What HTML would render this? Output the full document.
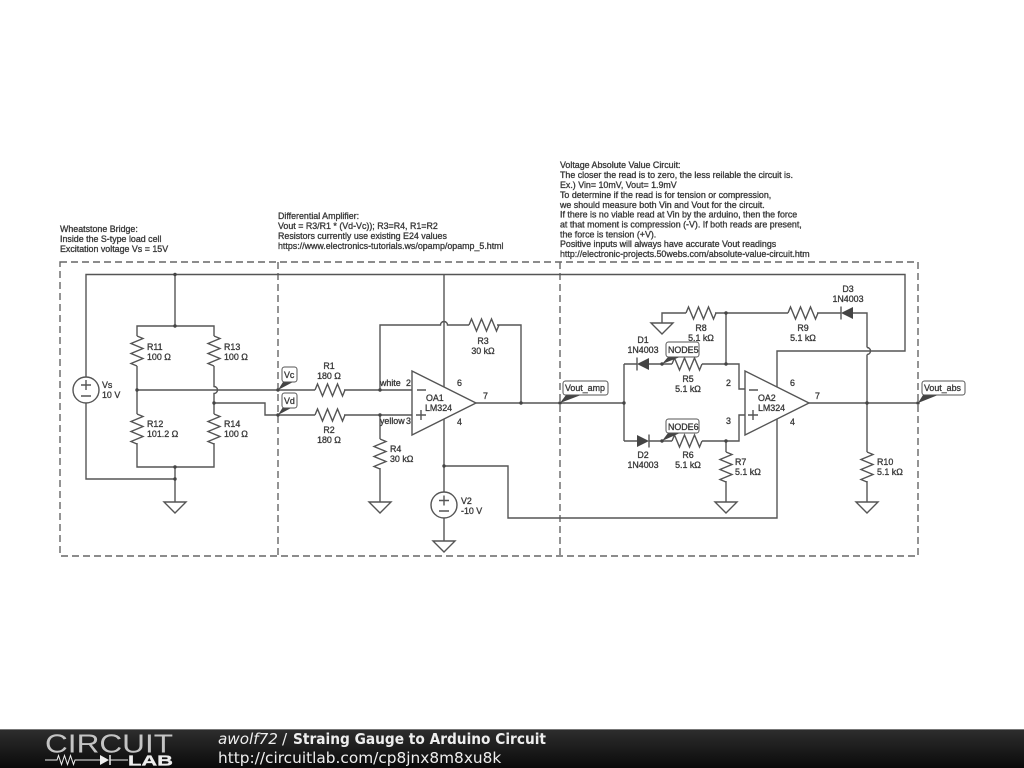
<!DOCTYPE html>
<html><head><meta charset="utf-8"><style>
html,body{margin:0;padding:0;background:#fff;width:1024px;height:768px;overflow:hidden}
svg{display:block;position:absolute;left:0;top:0;filter:blur(.35px)}
.w{fill:none;stroke:#555;stroke-width:1.4}
.d{fill:none;stroke:#666;stroke-width:1.4;stroke-dasharray:7 4}
.t text{font-family:"Liberation Sans",sans-serif;font-size:8.87px;fill:#3a3a3a;stroke:#3a3a3a;stroke-width:.32}
.c text{text-anchor:middle}
.box{fill:#fff;stroke:#555;stroke-width:1}
.wedge{fill:#444;stroke:none}
.dot{fill:#444}
</style></head><body>
<svg width="1024" height="768" viewBox="0 0 1024 768" xmlns="http://www.w3.org/2000/svg">
<defs>
<path id="rh" class="w" d="M0 0l2.500-6 5 12 5-12 5 12 5-12 5 12 2.500-6"/>
<path id="rv" class="w" d="M0 0l6 2.500-12 5 12 5-12 5 12 5-12 5 6 2.500"/>
<path id="gnd" class="w" d="M0 0h-11l11 11 11-11z"/>
</defs>
<!-- frames -->
<path class="d" d="M60 262H918V556H60Z"/>
<path class="d" d="M278 262V556M560 262V556"/>
<!-- bridge wiring -->
<path class="w" d="M86 377V274.500H905V351H777V387"/>
<path class="w" d="M175 274.500V326M137 336V326H214V336M137 366V414M214 366V386.500a3.500 3.500 0 0 1 0 7V414M137 443V467H214V443M175 467V502M86 403V479H175"/>
<path class="w" d="M137 390H315M214 403H265V415H315M344 390H412M344 415H412"/>
<use href="#rv" x="137" y="336"/><use href="#rv" x="214" y="336"/><use href="#rv" x="137" y="414"/><use href="#rv" x="214" y="414"/>
<use href="#gnd" x="175" y="502"/>
<circle class="w" cx="86" cy="390" r="13"/>
<path class="w" d="M81 385h10M86 380v10M81 396h10"/>
<!-- opamp 1 -->
<use href="#rh" x="315" y="390"/><use href="#rh" x="315" y="415"/>
<path class="w" d="M380 390V325H440.500a3.500 3.500 0 0 1 7 0H469M497 325H521V403M476 403H624M624 364V441"/>
<use href="#rh" x="469" y="325"/>
<path class="w" d="M380 415V439M380 468V502"/><use href="#rv" x="380" y="439"/><use href="#gnd" x="380" y="502"/>
<path class="w" d="M444 274.500V387M444 419V492M444 518V541M444 466H508V518H777V419"/>
<use href="#gnd" x="444" y="541"/>
<path class="w" style="fill:#fff" d="M412 371V435L476 403Z"/>
<path class="w" d="M417 390h9M416 415h10M421 410v10"/>
<circle class="w" cx="444" cy="505" r="13"/>
<path class="w" d="M439 500.500h10M444 495.500v10M439 511h10"/>
<!-- rectifier -->
<path class="w" d="M624 364H637M649 364H672M702 364H739V389H745M624 441H637M649 441H672M702 441H739V415H745"/>
<use href="#rh" x="672" y="364"/><use href="#rh" x="672" y="441"/>
<path class="dot" d="M637 364L649 358V370ZM649 441L637 435V447Z"/>
<path class="w" d="M637 357.500V370.500M649 434.500V447.500"/>
<path class="w" d="M662 323V313H686M715 313H788M726 313V364M726 441V452M726 481V502M817 313H841M853 313H867V347.500"/>
<use href="#rh" x="686" y="313"/><use href="#rh" x="788" y="313"/><use href="#rv" x="726" y="452"/>
<use href="#gnd" x="662" y="323"/><use href="#gnd" x="726" y="502"/>
<path class="dot" d="M841 313L853 307V319Z"/>
<path class="w" d="M841 306.500V319.500"/>
<!-- opamp 2 -->
<path class="w" style="fill:#fff" d="M745 371V435L809 403Z"/>
<path class="w" d="M749 390h9M748 415h10M753 410v10"/>
<path class="w" d="M809 403H918M867 354.500V452M867 481V502M867 347.500a3.500 3.500 0 0 1 0 7"/>
<use href="#rv" x="867" y="452"/><use href="#gnd" x="867" y="502"/>
<!-- junctions -->
<g class="dot">
<circle cx="175" cy="274.500" r="1.700"/><circle cx="175" cy="326" r="1.700"/><circle cx="137" cy="390" r="1.700"/><circle cx="214" cy="403" r="1.700"/><circle cx="175" cy="467" r="1.700"/><circle cx="175" cy="479" r="1.700"/>
<circle cx="278" cy="390" r="1.700"/><circle cx="278" cy="415" r="1.700"/><circle cx="380" cy="390" r="1.700"/><circle cx="380" cy="415" r="1.700"/><circle cx="444" cy="466" r="1.700"/><circle cx="521" cy="403" r="1.700"/><circle cx="560" cy="403" r="1.700"/>
<circle cx="624" cy="403" r="1.700"/><circle cx="662" cy="364" r="1.700"/><circle cx="662" cy="441" r="1.700"/><circle cx="726" cy="313" r="1.700"/><circle cx="726" cy="364" r="1.700"/><circle cx="726" cy="441" r="1.700"/><circle cx="867" cy="403" r="1.700"/><circle cx="918" cy="403" r="1.700"/>
</g>
<!-- net labels -->
<path class="wedge" d="M278 390L283 382H293ZM278 415L283 407H293ZM560 403L566 395H581ZM662 364L668 357H680ZM662 441L668 433H680ZM918 403L923 395H938Z"/>
<rect class="box" x="282" y="367" width="15" height="15" rx="2.500"/>
<rect class="box" x="282" y="393" width="15" height="15" rx="2.500"/>
<rect class="box" x="563" y="381" width="45" height="14" rx="2.500"/>
<rect class="box" x="666" y="342" width="33" height="15" rx="2.500"/>
<rect class="box" x="666" y="419" width="33" height="14" rx="2.500"/>
<rect class="box" x="922" y="381" width="43" height="14" rx="2.500"/>
<g class="t">
<text x="284" y="378">Vc</text><text x="284" y="404">Vd</text>
<text x="565" y="391">Vout_amp</text><text x="668" y="353">NODE5</text><text x="668" y="430">NODE6</text><text x="924" y="391">Vout_abs</text>
<!-- notes -->
<text x="60" y="232">Wheatstone Bridge:</text><text x="60" y="242">Inside the S-type load cell</text><text x="60" y="252">Excitation voltage Vs = 15V</text>
<text x="278" y="219">Differential Amplifier:</text><text x="278" y="229">Vout = R3/R1 * (Vd-Vc)); R3=R4, R1=R2</text><text x="278" y="239">Resistors currently use existing E24 values</text><text x="278" y="249">https://www.electronics-tutorials.ws/opamp/opamp_5.html</text>
<text x="560" y="168">Voltage Absolute Value Circuit:</text>
<text x="560" y="178">The closer the read is to zero, the less reilable the circuit is.</text>
<text x="560" y="188">Ex.) Vin= 10mV, Vout= 1.9mV</text>
<text x="560" y="198">To determine if the read is for tension or compression,</text>
<text x="560" y="208">we should measure both Vin and Vout for the circuit.</text>
<text x="560" y="217.500">If there is no viable read at Vin by the arduino, then the force</text>
<text x="560" y="227.500">at that moment is compression (-V). If both reads are present,</text>
<text x="560" y="237.500">the force is tension (+V).</text>
<text x="560" y="247">Positive inputs will always have accurate Vout readings</text>
<text x="560" y="257">http://electronic-projects.50webs.com/absolute-value-circuit.htm</text>
<!-- left-aligned component labels -->
<text x="147" y="350">R11</text><text x="147" y="360">100 Ω</text>
<text x="224" y="350">R13</text><text x="224" y="360">100 Ω</text>
<text x="147" y="427">R12</text><text x="147" y="437">101.2 Ω</text>
<text x="224" y="427">R14</text><text x="224" y="437">100 Ω</text>
<text x="102" y="388">Vs</text><text x="102" y="398">10 V</text>
<text x="380" y="386">white</text><text x="406" y="386">2</text>
<text x="380" y="424">yellow</text><text x="406" y="424">3</text>
<text x="426" y="401">OA1</text><text x="425" y="411">LM324</text>
<text x="457" y="386">6</text><text x="483" y="399">7</text><text x="457" y="425">4</text>
<text x="390" y="452">R4</text><text x="390" y="462">30 kΩ</text>
<text x="461" y="504">V2</text><text x="461" y="514">-10 V</text>
<text x="735" y="465">R7</text><text x="735" y="475">5.1 kΩ</text>
<text x="726" y="386">2</text><text x="726" y="424">3</text>
<text x="758" y="401">OA2</text><text x="758" y="411">LM324</text>
<text x="790" y="386">6</text><text x="815" y="399">7</text><text x="790" y="425">4</text>
<text x="877" y="465">R10</text><text x="877" y="475">5.1 kΩ</text>
</g>
<g class="t c">
<text x="329" y="369">R1</text><text x="329" y="379">180 Ω</text>
<text x="329" y="433">R2</text><text x="329" y="443">180 Ω</text>
<text x="483" y="344">R3</text><text x="483" y="354">30 kΩ</text>
<text x="701" y="331">R8</text><text x="701" y="341">5.1 kΩ</text>
<text x="643" y="343">D1</text><text x="643" y="353">1N4003</text>
<text x="688" y="382">R5</text><text x="688" y="392">5.1 kΩ</text>
<text x="643" y="458">D2</text><text x="643" y="468">1N4003</text>
<text x="688" y="458">R6</text><text x="688" y="468">5.1 kΩ</text>
<text x="848" y="292">D3</text><text x="848" y="302">1N4003</text>
<text x="803" y="331">R9</text><text x="803" y="341">5.1 kΩ</text>
</g>
<!-- footer -->
<defs><linearGradient id="fg" x1="0" y1="0" x2="0" y2="1"><stop offset="0" stop-color="#2e2e2e"/><stop offset=".5" stop-color="#1c1c1c"/><stop offset="1" stop-color="#0a0a0a"/></linearGradient></defs>
<rect x="0" y="729" width="1024" height="39" fill="url(#fg)"/>
<rect x="0" y="729" width="1024" height="1" fill="#777"/>
<text x="45" y="752.500" font-family="Liberation Sans,sans-serif" font-size="26" fill="#c4c4c4" textLength="128" lengthAdjust="spacingAndGlyphs">CIRCUIT</text>
<path d="M45 760H57l1.500-4.500 3 9 3-9 3 9 3-9 3 9 1.500-4.500H100M110 760H128" fill="none" stroke="#eee" stroke-width="1"/>
<path d="M100 755L109 760L100 765Z" fill="#eee"/><path d="M110 755V765" stroke="#eee" stroke-width="1.500"/>
<text x="128" y="765.500" font-family="Liberation Sans,sans-serif" font-size="14.500" font-weight="bold" fill="#eee" stroke="#eee" stroke-width=".3" textLength="45" lengthAdjust="spacingAndGlyphs">LAB</text>
<text x="218" y="744" font-family="DejaVu Sans,sans-serif" font-size="15.200" font-style="italic" fill="#eee">awolf72</text>
<text x="282" y="744" font-family="DejaVu Sans,sans-serif" font-size="15.200" fill="#eee">/</text>
<text x="293" y="744" font-family="DejaVu Sans,sans-serif" font-size="15.200" font-weight="bold" fill="#eee" textLength="253" lengthAdjust="spacingAndGlyphs">Straing Gauge to Arduino Circuit</text>
<text x="218" y="763" font-family="DejaVu Sans,sans-serif" font-size="15.350" fill="#eee">http://circuitlab.com/cp8jnx8m8xu8k</text>
</svg>
</body></html>
